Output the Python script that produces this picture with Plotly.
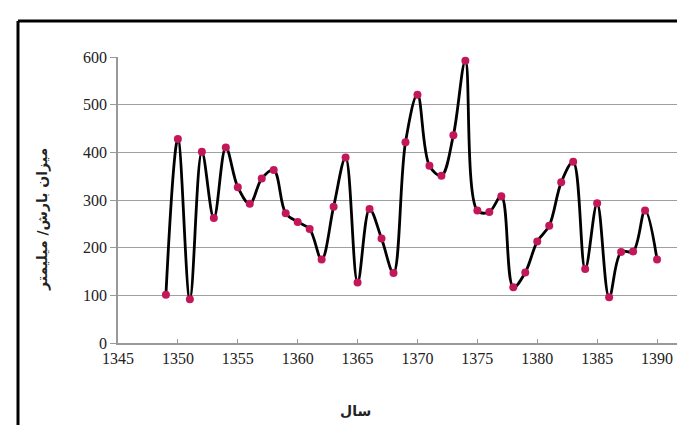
import plotly.graph_objects as go

years = list(range(1349, 1391))
rain = [101, 428, 92, 401, 262, 410, 327, 292, 345, 363,
        272, 254, 239, 175, 286, 389, 127, 281, 219, 147,
        421, 521, 372, 351, 436, 592, 278, 275, 308, 117,
        148, 213, 246, 337, 380, 155, 293, 96, 191, 192,
        278, 175]

x_ticks = [1345, 1350, 1355, 1360, 1365, 1370, 1375, 1380, 1385, 1390]
y_ticks = [0, 100, 200, 300, 400, 500, 600]

fig = go.Figure()
fig.add_trace(go.Scatter(
    x=years, y=rain, mode="lines+markers",
    line=dict(color="black", width=2.8, shape="spline", smoothing=1.0),
    marker=dict(color="#c2185b", size=8, line=dict(width=0)),
    cliponaxis=False, showlegend=False,
))

font_main = "Liberation Serif"
title_font = dict(family="DejaVu Sans", size=14, color="#222")
L, R, T, B = 110, 673, 49, 335
W, H = R - L, B - T

def px(xp):
    return (xp - L) / W

def py(yp):
    return (B - yp) / H

fig.update_layout(
    width=685, height=425,
    margin=dict(l=L, r=685 - R, t=T, b=425 - B),
    paper_bgcolor="white", plot_bgcolor="white",
    font=dict(family=font_main, size=16, color="#222"),
    xaxis=dict(range=[1345, 1392], tickvals=x_ticks, showgrid=False,
               showline=True, linecolor="#999", linewidth=1.5,
               ticks="inside", ticklen=4, tickcolor="#999",
               zeroline=False, tickfont=dict(family=font_main, size=16)),
    yaxis=dict(range=[0, 600], tickvals=y_ticks, showgrid=True,
               gridcolor="#a0a0a0", gridwidth=1,
               showline=True, linecolor="#999", linewidth=1.5,
               ticks="outside", ticklen=6, tickcolor="#999",
               zeroline=False, tickfont=dict(family=font_main, size=16),
               ticksuffix="\u00a0\u00a0"),
    annotations=[
        dict(text="<b>سال</b>", xref="paper", yref="paper",
             x=px(347), y=py(403), showarrow=False, font=title_font,
             xanchor="center", yanchor="middle"),
        dict(text="<b>میزان بارش/ میلیمتر</b>", xref="paper", yref="paper",
             x=px(34), y=py(212), showarrow=False, font=title_font,
             textangle=-90, xanchor="center", yanchor="middle"),
    ],
    shapes=[
        dict(type="line", xref="paper", yref="paper",
             x0=px(10), x1=px(700), y0=py(13), y1=py(13),
             line=dict(color="black", width=3)),
        dict(type="line", xref="paper", yref="paper",
             x0=px(10), x1=px(10), y0=py(13), y1=py(440),
             line=dict(color="black", width=3)),
    ],
)

fig.write_html("out.html")
